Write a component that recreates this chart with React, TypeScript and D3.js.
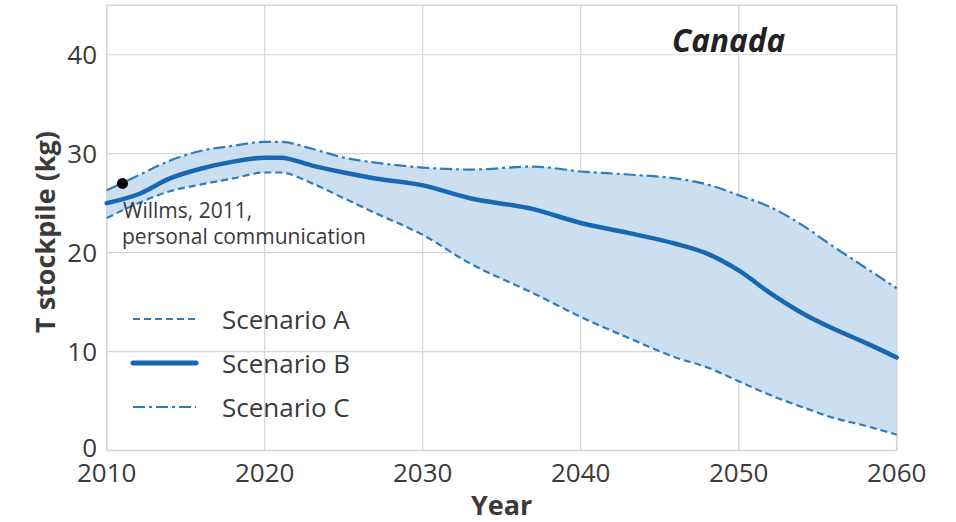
import React from "react";
import * as d3 from "d3";

// Projected T stockpile per scenario (kg), Canada
const years = [2010, 2012, 2014, 2016, 2018, 2020, 2021, 2023, 2025, 2027, 2030, 2033, 2037, 2040, 2043, 2046, 2048, 2050, 2052, 2054, 2056, 2058, 2060];
const scenarioA = [23.5, 25.0, 26.2, 26.9, 27.5, 28.1, 28.1, 27.0, 25.5, 24.0, 21.8, 18.9, 15.9, 13.5, 11.4, 9.4, 8.4, 7.0, 5.6, 4.4, 3.3, 2.5, 1.6];
const scenarioB = [25.0, 25.9, 27.5, 28.5, 29.2, 29.6, 29.6, 28.8, 28.1, 27.5, 26.8, 25.5, 24.4, 23.0, 22.0, 20.9, 19.9, 18.2, 15.9, 13.9, 12.3, 10.9, 9.4];
const scenarioC = [26.3, 27.8, 29.3, 30.3, 30.8, 31.2, 31.2, 30.5, 29.6, 29.1, 28.6, 28.4, 28.7, 28.2, 27.9, 27.5, 26.9, 25.8, 24.6, 22.8, 20.6, 18.5, 16.4];

const xTicks = [2010, 2020, 2030, 2040, 2050, 2060];
const yTicks = [0, 10, 20, 30, 40];

const observedYear = 2011;
const observedValue = 27.0;

const legendItems = [
  { label: "Scenario A", dash: "7,4", width: 2.2 },
  { label: "Scenario B", dash: "", width: 5 },
  { label: "Scenario C", dash: "12,4,3,4", width: 2.2 },
];

const W = 956;
const H = 522;
const m = { left: 106.7, right: W - 896.7, top: 5.3, bottom: H - 450.5 };

const FONT = "'Open Sans', 'DejaVu Sans', sans-serif";
const TEXT = "#3a3a3a";
const GRID = "#d6d6d6";
const FILL = "#c6dcee";
const LINE_MAIN = "#1767b2";
const LINE_SIDE = "#2f7cbd";

export default function App() {
  const x = d3.scaleLinear().domain([2010, 2060]).range([m.left, W - m.right]);
  const y = d3.scaleLinear().domain([0, 45]).range([H - m.bottom, m.top]);

  const rows = years.map((yr, i) => ({ yr, a: scenarioA[i], b: scenarioB[i], c: scenarioC[i] }));
  const curve = d3.curveMonotoneX;

  const band = d3
    .area<(typeof rows)[number]>()
    .x((d) => x(d.yr))
    .y0((d) => y(d.a))
    .y1((d) => y(d.c))
    .curve(curve)(rows) as string;

  const mkLine = (key: "a" | "b" | "c") =>
    d3
      .line<(typeof rows)[number]>()
      .x((d) => x(d.yr))
      .y((d) => y(d[key]))
      .curve(curve)(rows) as string;

  const [x0, x1] = x.range();
  const [yb, yt] = y.range();

  return (
    <svg width={W} height={H} style={{ position: "absolute", left: 0, top: 0, background: "#fff" }}>
      <rect x={0} y={0} width={W} height={H} fill="#fff" />
      {/* grid */}
      {xTicks.map((t) => (
        <line key={"gx" + t} x1={x(t)} x2={x(t)} y1={yt} y2={yb} stroke={GRID} strokeWidth={1.2} />
      ))}
      {yTicks.map((t) => (
        <line key={"gy" + t} x1={x0} x2={x1} y1={y(t)} y2={y(t)} stroke={GRID} strokeWidth={1.2} />
      ))}
      <rect x={x0} y={yt} width={x1 - x0} height={yb - yt} fill="none" stroke={GRID} strokeWidth={1.5} />

      {/* scenario range */}
      <path d={band} fill={FILL} fillOpacity={0.9} />
      <path d={mkLine("a")} fill="none" stroke={LINE_SIDE} strokeWidth={2.2} strokeDasharray="7,4" />
      <path d={mkLine("c")} fill="none" stroke={LINE_SIDE} strokeWidth={2.2} strokeDasharray="12,4,3,4" />
      <path d={mkLine("b")} fill="none" stroke={LINE_MAIN} strokeWidth={4.5} strokeLinecap="round" />

      {/* observed point */}
      <circle cx={x(observedYear)} cy={y(observedValue)} r={5.5} fill="#000" />
      <text x={123} y={218} fontFamily={FONT} fontSize={21} fill={TEXT}>
        Willms, 2011,
      </text>
      <text x={122} y={244} fontFamily={FONT} fontSize={21} fill={TEXT}>
        personal communication
      </text>

      {/* title */}
      <text x={672} y={52} fontFamily={FONT} fontSize={31.5} fontWeight={700} fontStyle="italic" fill="#222">
        Canada
      </text>

      {/* legend */}
      {legendItems.map((it, i) => {
        const ly = 319 + i * 44;
        return (
          <g key={it.label}>
            <line x1={133} x2={196} y1={ly} y2={ly} stroke={i === 1 ? LINE_MAIN : LINE_SIDE} strokeWidth={it.width} strokeDasharray={it.dash || undefined} strokeLinecap={i === 1 ? "round" : "butt"} />
            <text x={222} y={ly + 10} fontFamily={FONT} fontSize={26} fill={TEXT}>
              {it.label}
            </text>
          </g>
        );
      })}

      {/* axes labels */}
      {xTicks.map((t) => (
        <text key={"tx" + t} x={x(t)} y={482} textAnchor="middle" fontFamily={FONT} fontSize={26} fill={TEXT}>
          {t}
        </text>
      ))}
      {yTicks.map((t) => (
        <text key={"ty" + t} x={97} y={y(t) + (t === 0 ? 6 : 9)} textAnchor="end" fontFamily={FONT} fontSize={26} fill={TEXT}>
          {t}
        </text>
      ))}
      <text x={(x0 + x1) / 2} y={515} textAnchor="middle" fontFamily={FONT} fontSize={27} fontWeight={700} fill={TEXT}>
        Year
      </text>
      <text
        transform={`translate(55, 232) rotate(-90)`}
        textAnchor="middle"
        fontFamily={FONT}
        fontSize={27}
        fontWeight={700}
        fill={TEXT}
      >
        T stockpile (kg)
      </text>
    </svg>
  );
}
